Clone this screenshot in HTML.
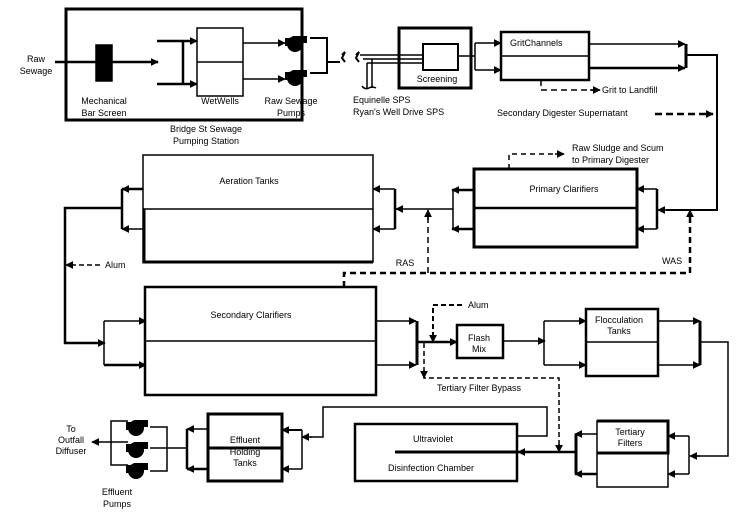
<!DOCTYPE html>
<html><head><style>
html,body{margin:0;padding:0;background:#fff;}
svg{display:block;font-family:"Liberation Sans",Arial,sans-serif;font-size:9px;}
</style></head><body>
<svg width="736" height="522" viewBox="0 0 736 522" xmlns="http://www.w3.org/2000/svg">
<defs>
<marker id="a" viewBox="0 0 10 10" refX="9" refY="5" markerWidth="8" markerHeight="8" markerUnits="userSpaceOnUse" orient="auto"><path d="M0,0L10,5L0,10z" fill="#000"/></marker>
<g id="pump"><circle cx="10" cy="10" r="8" fill="#000"/><rect x="8" y="2" width="14" height="7" fill="#000"/><rect x="0" y="4" width="6" height="8" fill="#000"/></g>
</defs>
<g fill="none" stroke="#000" stroke-width="1.5">
<rect x="66" y="9" width="236" height="111" stroke-width="3"/>
<line x1="55" y1="62" x2="158" y2="62" stroke-width="2.5" marker-end="url(#a)"/>
<rect x="96" y="45" width="16" height="36" fill="#000"/>
<path d="M157,41H196M157,84H196M183,41V84" stroke-width="2.5"/>
<line x1="183" y1="41" x2="197" y2="41" marker-end="url(#a)"/>
<line x1="183" y1="84" x2="197" y2="84" marker-end="url(#a)"/>
<rect x="197" y="28" width="46" height="68"/><line x1="197" y1="62" x2="243" y2="62"/>
<line x1="243" y1="43" x2="285" y2="43" marker-end="url(#a)"/>
<line x1="243" y1="79" x2="285" y2="79" marker-end="url(#a)"/>
<path d="M310,38H327V73H310M327,62H340" stroke-width="2"/>
<path d="M342,55l3,-3l-3,6l3,4M356,55l3,-3l-3,6l3,4" stroke-width="2"/>
<rect x="399" y="28" width="72" height="60" stroke-width="3"/>
<rect x="423" y="44" width="35" height="26" stroke-width="2"/>
<path d="M360,55H423M363,59H423M367,63H423M367,63V88M372,59V88" stroke-width="1.5"/>
<path d="M362,86q3,4 7,2q3,-2 7,0" />
<path d="M458,56H475M475,43V70"/>
<line x1="475" y1="43" x2="501" y2="43" marker-end="url(#a)"/>
<line x1="475" y1="70" x2="501" y2="70" marker-end="url(#a)"/>
<rect x="501" y="32" width="88" height="48" stroke-width="2.5"/><line x1="501" y1="56" x2="589" y2="56"/>
<line x1="589" y1="44" x2="685" y2="44" marker-end="url(#a)"/>
<line x1="589" y1="68" x2="685" y2="68" stroke-width="2.5" marker-end="url(#a)"/>
<path d="M686,44V68" stroke-width="3"/>
<path d="M687,55H717V210H666" stroke-width="2"/>
<line x1="680" y1="210" x2="658" y2="210" marker-end="url(#a)"/>
<path d="M541,80V90H598" stroke-dasharray="6,4" stroke-width="1.5"/>
<line x1="590" y1="90" x2="600" y2="90" marker-end="url(#a)"/>
<line x1="655" y1="114" x2="713" y2="114" stroke-width="2.5" stroke-dasharray="7,4" marker-end="url(#a)"/>
<rect x="474" y="169" width="163" height="78" stroke-width="3"/><line x1="474" y1="208" x2="637" y2="208" stroke-width="2.5"/>
<path d="M509,169V154H560" stroke-dasharray="5,4"/>
<line x1="555" y1="154" x2="564" y2="154" marker-end="url(#a)"/>
<path d="M657,189V229" stroke-width="2.5"/>
<line x1="657" y1="189" x2="637" y2="189" marker-end="url(#a)"/>
<line x1="657" y1="229" x2="637" y2="229" marker-end="url(#a)"/>
<line x1="474" y1="190" x2="452" y2="190" stroke-width="2.5" marker-end="url(#a)"/>
<line x1="474" y1="229" x2="452" y2="229" stroke-width="2.5" marker-end="url(#a)"/>
<path d="M453,190V229"/>
<line x1="453" y1="209" x2="396" y2="209" marker-end="url(#a)"/>
<rect x="143" y="155" width="230" height="107"/><line x1="143" y1="209" x2="373" y2="209"/>
<path d="M144,209V262H373" stroke-width="3"/>
<path d="M395,189V229" stroke-width="2.5"/>
<line x1="395" y1="189" x2="373" y2="189" marker-end="url(#a)"/>
<line x1="395" y1="229" x2="373" y2="229" marker-end="url(#a)"/>
<line x1="143" y1="189" x2="122" y2="189" stroke-width="2.5" marker-end="url(#a)"/>
<line x1="143" y1="229" x2="122" y2="229" marker-end="url(#a)"/>
<path d="M122,189V229" stroke-width="2.5"/>
<path d="M122,208H65V343H100" stroke-width="2.5"/>
<line x1="96" y1="343" x2="105" y2="343" marker-end="url(#a)"/>
<path d="M104,321V365"/>
<line x1="104" y1="321" x2="146" y2="321" marker-end="url(#a)"/>
<line x1="104" y1="365" x2="146" y2="365" stroke-width="2.5" marker-end="url(#a)"/>
<line x1="100" y1="265" x2="66" y2="265" stroke-dasharray="5,3" marker-end="url(#a)"/>
<rect x="145" y="287" width="231" height="108" stroke-width="2.5"/><line x1="145" y1="341" x2="376" y2="341"/>
<path d="M344,287V273H690V212" stroke-width="2.5" stroke-dasharray="6,4"/>
<line x1="690" y1="220" x2="690" y2="210" marker-end="url(#a)"/>
<path d="M428,273V215" stroke-dasharray="6,4"/>
<line x1="428" y1="220" x2="428" y2="210" marker-end="url(#a)"/>
<line x1="376" y1="321" x2="416" y2="321" marker-end="url(#a)"/>
<line x1="376" y1="365" x2="416" y2="365" marker-end="url(#a)"/>
<path d="M417,321V365" stroke-width="3"/>
<line x1="417" y1="342" x2="457" y2="342" stroke-width="2.5" marker-end="url(#a)"/>
<path d="M462,305H433V335" stroke-dasharray="5,3" stroke-width="2"/>
<line x1="433" y1="333" x2="433" y2="342" marker-end="url(#a)"/>
<path d="M424,343V378H559V445" stroke-dasharray="5,3"/>
<line x1="424" y1="370" x2="424" y2="378" marker-end="url(#a)"/>
<line x1="559" y1="444" x2="559" y2="452" marker-end="url(#a)"/>
<rect x="457" y="325" width="46" height="33" stroke-width="2.5"/>
<line x1="503" y1="341" x2="545" y2="341" marker-end="url(#a)"/>
<path d="M544,321V365"/>
<line x1="544" y1="321" x2="586" y2="321" marker-end="url(#a)"/>
<line x1="544" y1="365" x2="586" y2="365" marker-end="url(#a)"/>
<rect x="586" y="309" width="72" height="67" stroke-width="2.5"/><line x1="586" y1="342" x2="658" y2="342"/>
<line x1="658" y1="321" x2="700" y2="321" marker-end="url(#a)"/>
<line x1="658" y1="365" x2="700" y2="365" marker-end="url(#a)"/>
<path d="M700,321V365" stroke-width="3"/>
<path d="M701,342H728V456H696"/>
<line x1="700" y1="456" x2="690" y2="456" marker-end="url(#a)"/>
<rect x="597" y="421" width="71" height="66"/><path d="M597,421H668V453H597" stroke-width="3"/>
<path d="M689,436V474"/>
<line x1="689" y1="436" x2="668" y2="436" marker-end="url(#a)"/>
<line x1="689" y1="474" x2="668" y2="474" marker-end="url(#a)"/>
<line x1="597" y1="434" x2="575" y2="434" marker-end="url(#a)"/>
<line x1="597" y1="474" x2="575" y2="474" stroke-width="2.5" marker-end="url(#a)"/>
<path d="M576,434V474" stroke-width="3"/>
<line x1="576" y1="452" x2="518" y2="452" stroke-width="2.5" marker-end="url(#a)"/>
<rect x="355" y="424" width="162" height="57" stroke-width="2.5"/>
<line x1="395" y1="452" x2="517" y2="452" stroke-width="3"/>
<path d="M517,436H547V407H323V437H310"/>
<line x1="312" y1="437" x2="302" y2="437" marker-end="url(#a)"/>
<rect x="208" y="414" width="74" height="67" stroke-width="3"/>
<line x1="208" y1="448" x2="282" y2="448" stroke-width="3"/>
<path d="M302,430V469"/>
<line x1="302" y1="430" x2="282" y2="430" stroke-width="2" marker-end="url(#a)"/>
<line x1="302" y1="469" x2="282" y2="469" marker-end="url(#a)"/>
<line x1="208" y1="429" x2="187" y2="429" marker-end="url(#a)"/>
<line x1="208" y1="469" x2="187" y2="469" stroke-width="2.5" marker-end="url(#a)"/>
<path d="M187,429V469" stroke-width="2.5"/>
<path d="M187,448H150"/>
<path d="M128,421H111V465H128M150,427H167V471H150" stroke-width="1.5"/>
<line x1="128" y1="442" x2="92" y2="442" marker-end="url(#a)"/>
</g>
<use href="#pump" x="285" y="34"/>
<use href="#pump" x="285" y="68"/>
<use href="#pump" x="126" y="418"/>
<use href="#pump" x="126" y="440"/>
<use href="#pump" x="126" y="461"/>
<g fill="#000">
<text x="36" y="62" text-anchor="middle">Raw</text><text x="36" y="74" text-anchor="middle">Sewage</text>
<text x="104" y="104" text-anchor="middle">Mechanical</text><text x="104" y="116" text-anchor="middle">Bar Screen</text>
<text x="220" y="104" text-anchor="middle">WetWells</text>
<text x="291" y="104" text-anchor="middle">Raw Sewage</text><text x="291" y="116" text-anchor="middle">Pumps</text>
<text x="206" y="132" text-anchor="middle">Bridge St Sewage</text><text x="206" y="144" text-anchor="middle">Pumping Station</text>
<text x="437" y="82" text-anchor="middle">Screening</text>
<text x="353" y="103">Equinelle    SPS</text><text x="353" y="115">Ryan's Well Drive SPS</text>
<text x="510" y="46">GritChannels</text>
<text x="602" y="93">Grit to Landfill</text>
<text x="497" y="116">Secondary Digester Supernatant</text>
<text x="572" y="151">Raw Sludge and Scum</text><text x="572" y="163">to Primary Digester</text>
<text x="564" y="192" text-anchor="middle">Primary Clarifiers</text>
<text x="249" y="184" text-anchor="middle">Aeration Tanks</text>
<text x="105" y="268">Alum</text>
<text x="405" y="266" text-anchor="middle">RAS</text><text x="662" y="264">WAS</text>
<text x="251" y="318" text-anchor="middle">Secondary Clarifiers</text>
<text x="468" y="308">Alum</text>
<text x="479" y="341" text-anchor="middle">Flash</text><text x="479" y="352" text-anchor="middle">Mix</text>
<text x="619" y="323" text-anchor="middle">Flocculation</text><text x="619" y="334" text-anchor="middle">Tanks</text>
<text x="437" y="391">Tertiary Filter Bypass</text>
<text x="630" y="435" text-anchor="middle">Tertiary</text><text x="630" y="446" text-anchor="middle">Filters</text>
<text x="413" y="442">Ultraviolet</text><text x="388" y="471">Disinfection Chamber</text>
<text x="245" y="443" text-anchor="middle">Effluent</text><text x="245" y="455" text-anchor="middle">Holding</text><text x="245" y="466" text-anchor="middle">Tanks</text>
<text x="71" y="432" text-anchor="middle">To</text><text x="71" y="443" text-anchor="middle">Outfall</text><text x="71" y="454" text-anchor="middle">Diffuser</text>
<text x="117" y="495" text-anchor="middle">Effluent</text><text x="117" y="507" text-anchor="middle">Pumps</text>
</g>
</svg>
</body></html>
